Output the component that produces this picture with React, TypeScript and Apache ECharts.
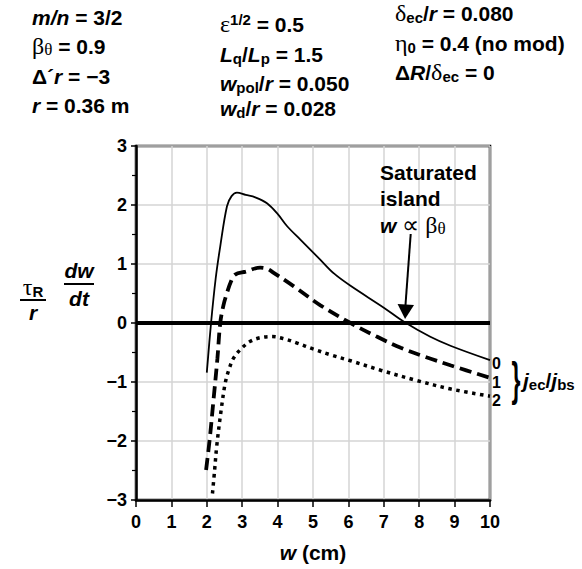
import React, { useEffect, useRef } from "react";
import * as echarts from "echarts";

// ---- data ----
const xTicks = [0, 1, 2, 3, 4, 5, 6, 7, 8, 9, 10];
const yTicks = [-3, -2, -1, 0, 1, 2, 3];

// j_ec/j_bs = 0  (solid)
const curve0: [number, number][] = [
  [2.0, -0.84], [2.12, 0], [2.25, 0.75], [2.38, 1.3], [2.57, 1.98], [2.7, 2.15],
  [2.85, 2.21], [3.1, 2.17], [3.37, 2.13], [3.7, 2.03], [4.0, 1.85], [4.27, 1.64],
  [4.65, 1.41], [5.21, 1.07], [5.59, 0.84], [6.06, 0.63], [7.0, 0.26], [7.57, 0.02],
  [8.3, -0.23], [8.9, -0.39], [10, -0.63],
];
// j_ec/j_bs = 1  (dashed)
const curve1: [number, number][] = [
  [1.98, -2.49], [2.08, -1.98], [2.19, -1.3], [2.3, -0.6], [2.38, 0], [2.47, 0.3],
  [2.57, 0.51], [2.68, 0.7], [2.8, 0.82], [3.1, 0.87], [3.51, 0.94], [3.7, 0.92],
  [3.89, 0.85], [4.46, 0.62], [5.21, 0.3], [6.06, 0], [6.8, -0.23], [7.48, -0.42],
  [8.2, -0.58], [8.9, -0.72], [10, -0.93],
];
// j_ec/j_bs = 2  (dotted)
const curve2: [number, number][] = [
  [2.16, -2.89], [2.22, -2.5], [2.28, -2.09], [2.4, -1.5], [2.52, -1.02], [2.63, -0.78],
  [2.76, -0.59], [3.0, -0.42], [3.23, -0.31], [3.5, -0.25], [3.84, -0.23], [4.2, -0.27],
  [4.55, -0.34], [5.0, -0.44], [5.5, -0.54], [6.06, -0.64], [6.91, -0.8], [7.9, -0.97],
  [8.9, -1.12], [10, -1.24],
];
const zeroLine: [number, number][] = [[0, 0], [10, 0]];
const curveLabels = ["0", "1", "2"];
const arrowTarget: [number, number] = [7.6, 0];

// ---- styles ----
const SANS = "'Liberation Sans', Arial, Helvetica, sans-serif";
const SERIF = "'Liberation Serif', 'Times New Roman', serif";
const F = 21;
const LH = 24;

const rich = {
  b: { fontFamily: SANS, fontWeight: "bold", fontSize: F, lineHeight: LH, fill: "#000" },
  i: { fontFamily: SANS, fontWeight: "bold", fontStyle: "italic", fontSize: F, lineHeight: LH, fill: "#000" },
  g: { fontFamily: SERIF, fontSize: 24, lineHeight: LH, fill: "#000" },
  gs: { fontFamily: SERIF, fontSize: 17, lineHeight: 14, verticalAlign: "bottom", fill: "#000" },
  s: { fontFamily: SANS, fontWeight: "bold", fontSize: 15, lineHeight: 12, verticalAlign: "bottom", fill: "#000" },
  p: { fontFamily: SANS, fontWeight: "bold", fontSize: 15, lineHeight: 12, verticalAlign: "top", fill: "#000" },
};

function txt(x: number, y: number, text: string, align = "left") {
  return {
    type: "text",
    x,
    y,
    z: 100,
    style: { text, rich, align, verticalAlign: "middle", fill: "#000" },
  };
}

const fmtY = (v: number) => (v < 0 ? "\u2212" + Math.abs(v) : String(v));

export default function App() {
  const ref = useRef<HTMLDivElement>(null);
  useEffect(() => {
    const chart = echarts.init(ref.current!, null, { renderer: "svg" });
    const tickFont = { fontFamily: SANS, fontWeight: "bold" as const, fontSize: 18, color: "#000" };
    chart.setOption({
      animation: false,
      grid: {
        left: 136, top: 146, width: 354, height: 354,
        show: true, borderColor: "#000", borderWidth: 2.5, backgroundColor: "transparent",
      },
      xAxis: {
        type: "value", min: xTicks[0], max: xTicks[xTicks.length - 1], interval: 1,
        axisLine: { show: true, onZero: false, lineStyle: { color: "#000", width: 2.5 } },
        axisTick: { show: true, length: 7, lineStyle: { color: "#000", width: 1.5 } },
        splitLine: { show: true, lineStyle: { color: "#d4d4d4", width: 1.5 } },
        axisLabel: { ...tickFont, margin: 13 },
      },
      yAxis: {
        type: "value", min: yTicks[0], max: yTicks[yTicks.length - 1], interval: 1,
        axisLine: { show: true, onZero: false, lineStyle: { color: "#000", width: 2.5 } },
        axisTick: { show: true, length: 5, lineStyle: { color: "#000", width: 1.5 } },
        minorTick: { show: true, splitNumber: 2, length: 4, lineStyle: { color: "#000", width: 1.2 } },
        splitLine: { show: true, lineStyle: { color: "#d4d4d4", width: 1.5 } },
        axisLabel: { ...tickFont, margin: 9, formatter: fmtY },
      },
      series: [
        {
          type: "line", data: zeroLine, symbol: "none", z: 1,
          lineStyle: { color: "#000", width: 4 },
        },
        {
          type: "line", data: curve0, symbol: "none", smooth: 0.35, z: 3,
          lineStyle: { color: "#000", width: 1.8 },
        },
        {
          type: "line", data: curve1, symbol: "none", smooth: 0.35, z: 3,
          lineStyle: { color: "#000", width: 3.8, type: [12, 6], cap: "butt" },
        },
        {
          type: "line", data: curve2, symbol: "none", smooth: 0.35, z: 3,
          lineStyle: { color: "#000", width: 3.5, type: [3.5, 4.5], cap: "butt" },
        },
      ],
    });

    const tip = chart.convertToPixel({ gridIndex: 0 }, arrowTarget) as number[];
    const tx = tip[0];
    const ty = tip[1] - 4;

    chart.setOption({
      graphic: [
        // parameter blocks
        txt(32, 17, "{i|m/n}{b| = 3/2}"),
        txt(32, 46, "{g|β}{gs|θ}{b| = 0.9}"),
        txt(32, 76, "{b|Δ´}{i|r}{b| = \u22123}"),
        txt(32, 105, "{i|r}{b| = 0.36 m}"),

        txt(220, 24, "{g|ε}{p|1/2}{b| = 0.5}"),
        txt(220, 54, "{i|L}{s|q}{b|/}{i|L}{s|p}{b| = 1.5}"),
        txt(220, 83, "{i|w}{s|pol}{b|/}{i|r}{b| = 0.050}"),
        txt(220, 108, "{i|w}{s|d}{b|/}{i|r}{b| = 0.028}"),

        txt(395, 13, "{g|δ}{s|ec}{b|/}{i|r}{b| = 0.080}"),
        txt(395, 43, "{g|η}{s|0}{b| = 0.4 (no mod)}"),
        txt(395, 72, "{b|Δ}{i|R}{b|/}{g|δ}{s|ec}{b| = 0}"),

        // y axis label
        txt(33, 287, "{g|τ}{s|R}", "center"),
        { type: "line", shape: { x1: 20, y1: 300, x2: 46, y2: 300 }, style: { stroke: "#000", lineWidth: 2 } },
        txt(33, 312, "{i|r}", "center"),
        txt(79, 270, "{i|dw}", "center"),
        { type: "line", shape: { x1: 64, y1: 284, x2: 94, y2: 284 }, style: { stroke: "#000", lineWidth: 2 } },
        txt(79, 298, "{i|dt}", "center"),

        // x axis title
        txt(313, 552, "{i|w}{b| (cm)}", "center"),

        // annotation
        txt(380, 172, "{b|Saturated}"),
        txt(380, 198, "{b|island}"),
        txt(380, 225, "{i|w}{g| ∝ β}{gs|θ}"),
        { type: "line", shape: { x1: 410.7, y1: 234, x2: tx, y2: ty - 8 }, style: { stroke: "#000", lineWidth: 2 } },
        {
          type: "polygon",
          shape: { points: [[tx, ty], [tx - 7.5, ty - 15], [tx + 9, ty - 14]] },
          style: { fill: "#000" },
        },

        // right side curve labels
        ...curveLabels.map((l, k) => ({
          type: "text",
          x: 492,
          y: [363, 382, 400][k],
          style: { text: l, fontFamily: SANS, fontWeight: "bold", fontSize: 16, lineHeight: 16, fill: "#000", align: "left", verticalAlign: "middle" },
        })),
        {
          type: "text", x: 516, y: 379, scaleX: 0.5,
          style: { text: "}", fontFamily: SANS, fontWeight: "bold", fontSize: 46, fill: "#000", align: "center", verticalAlign: "middle" },
        },
        txt(523, 380, "{i|j}{s|ec}{b|/}{i|j}{s|bs}"),
      ],
    });
    return () => chart.dispose();
  }, []);
  return <div ref={ref} style={{ position: "absolute", left: 0, top: 0, width: 582, height: 569 }} />;
}
